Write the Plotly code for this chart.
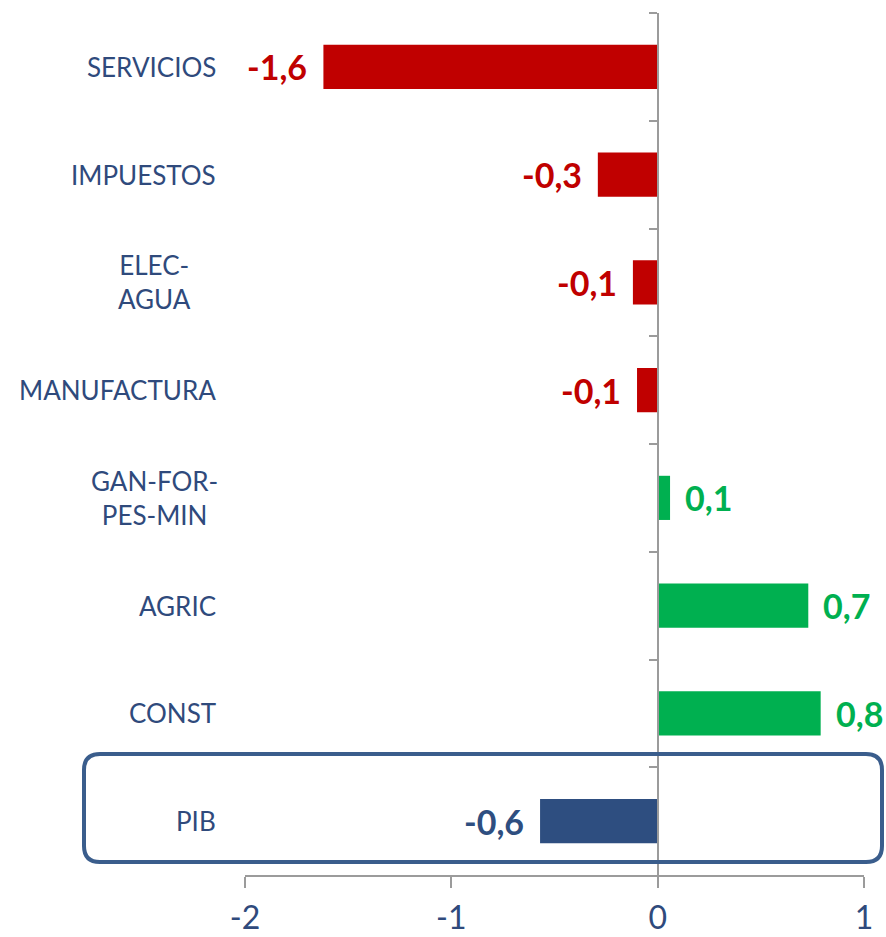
import plotly.graph_objects as go

categories = ["SERVICIOS", "IMPUESTOS", "ELEC-<br>AGUA", "MANUFACTURA",
              "GAN-FOR-<br>PES-MIN", "AGRIC", "CONST", "PIB"]
values = [-1.62, -0.29, -0.12, -0.10, 0.06, 0.73, 0.79, -0.57]
tick_vals = [-2, -1, 0, 1]
tick_text = ["-2", "-1", "0", "1"]

RED = "#C00000"
GREEN = "#00B050"
NAVY = "#2E4E80"
TEXT = "#2F4A7C"
GRAY = "#9B9B9B"
FONT = "Lato, 'Open Sans', sans-serif"

def bar_color(cat, v):
    if cat == "PIB":
        return NAVY
    return RED if v < 0 else GREEN

colors = [bar_color(c, v) for c, v in zip(categories, values)]

fig = go.Figure()
fig.add_trace(go.Bar(
    x=values, y=categories, orientation="h",
    marker=dict(color=colors, line=dict(width=0)),
    width=0.41, hoverinfo="skip",
))

annotations = []
# value labels
for c, v, col in zip(categories, values, colors):
    txt = f"{v:.1f}".replace(".", ",")
    annotations.append(dict(
        x=v, y=c, xref="x", yref="y", text=txt, showarrow=False,
        xanchor="right" if v < 0 else "left",
        xshift=-14 if v < 0 else 13,
        font=dict(family=FONT, size=34, color=col, weight="bold"),
    ))
# category labels
for c in categories:
    multi = "<br>" in c
    annotations.append(dict(
        x=0, y=c, xref="paper", yref="y", text=c, showarrow=False,
        xanchor="center" if multi else "right",
        xshift=-91 if multi else -27,
        align="center",
        font=dict(family=FONT, size=26, color=TEXT),
    ))

# rounded frame around PIB (pixel geometry converted to paper coords)
L, R, T, B = 245, 864, 13, 875
def px(x):
    return (x - L) / (R - L)
def py(y):
    return 1 - (y - T) / (B - T)
x0, x1, y0, y1, r = 84, 882, 754, 862, 16
path = (
    f"M {px(x0 + r)},{py(y0)} L {px(x1 - r)},{py(y0)} "
    f"Q {px(x1)},{py(y0)} {px(x1)},{py(y0 + r)} "
    f"L {px(x1)},{py(y1 - r)} Q {px(x1)},{py(y1)} {px(x1 - r)},{py(y1)} "
    f"L {px(x0 + r)},{py(y1)} Q {px(x0)},{py(y1)} {px(x0)},{py(y1 - r)} "
    f"L {px(x0)},{py(y0 + r)} Q {px(x0)},{py(y0)} {px(x0 + r)},{py(y0)} Z"
)
shapes = [dict(type="path", xref="paper", yref="paper", path=path,
               line=dict(color="#3A5D8C", width=4), fillcolor="rgba(0,0,0,0)",
               layer="above")]

fig.update_layout(
    width=886, height=937,
    margin=dict(l=L, r=886 - R, t=T, b=937 - B, autoexpand=False),
    paper_bgcolor="white", plot_bgcolor="white",
    showlegend=False, bargap=0.59,
    annotations=annotations, shapes=shapes,
    xaxis=dict(
        range=[-2, 1], tickmode="array", tickvals=tick_vals, ticktext=tick_text,
        showgrid=False, zeroline=False, showline=True, linecolor=GRAY, linewidth=2,
        ticks="outside", ticklen=11, tickwidth=2, tickcolor=GRAY,
        tickfont=dict(family=FONT, size=32, color=TEXT),
        ticklabelstandoff=3, automargin=False,
    ),
    yaxis=dict(
        type="category", autorange="reversed", anchor="free", position=2 / 3,
        showgrid=False, zeroline=False, showline=True, linecolor=GRAY, linewidth=2,
        ticks="outside", tickson="boundaries", ticklen=8, tickwidth=2, tickcolor=GRAY,
        showticklabels=False, automargin=False,
    ),
)

fig.write_html("out.html", config={"displayModeBar": False},
               post_script="document.body.style.margin='0';document.body.style.overflow='hidden';")
